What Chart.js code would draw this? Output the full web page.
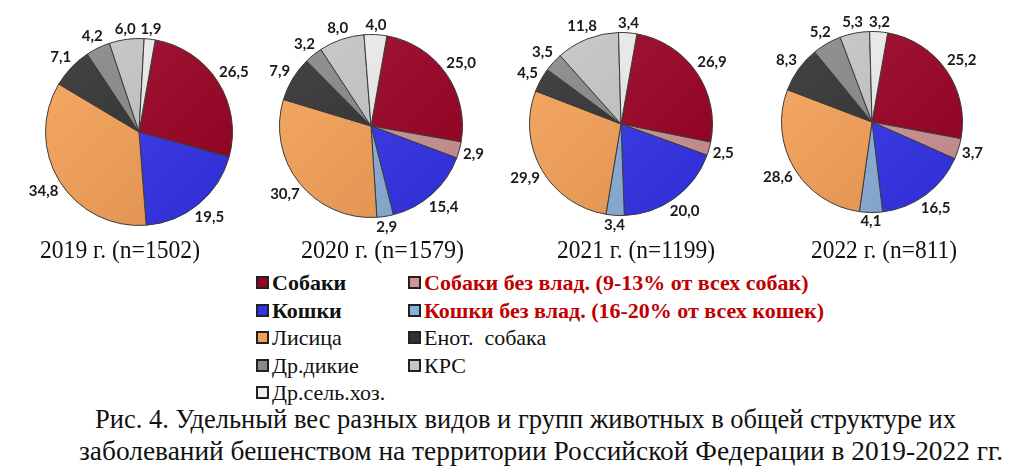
<!DOCTYPE html>
<html>
<head>
<meta charset="UTF-8">
<title>Удельный вес видов животных</title>
<script src="https://cdn.jsdelivr.net/npm/chart.js@4/dist/chart.umd.min.js"></script>
<style>
  html, body { margin: 0; padding: 0; background: #fff; }
  body { width: 1024px; height: 474px; position: relative; overflow: hidden;
         font-family: "Liberation Serif", "Times New Roman", serif; color: #111; }
  .pie { position: absolute; top: 0; }
  .year { position: absolute; font-size: 25px; line-height: 28px; white-space: nowrap; }
  .lg { position: absolute; font-size: 22px; line-height: 24px; white-space: pre; }
  .lg i { display: inline-block; width: 9px; height: 9px; border: 2px solid #222;
          vertical-align: middle; margin-right: 3px; position: relative; top: -2px; }
  .lg.b { font-weight: bold; }
  .lg.r { font-weight: bold; color: #c00000; }
  .cap { position: absolute; font-size: 27px; line-height: 30px; white-space: nowrap; }
  .fit { transform-origin: 0 50%; }
</style>
</head>
<body>

<canvas id="pie0" class="pie"></canvas>
<canvas id="pie1" class="pie"></canvas>
<canvas id="pie2" class="pie"></canvas>
<canvas id="pie3" class="pie"></canvas>

<script>
// categories in slice order (clockwise from the top)
var categories = ['Собаки', 'Собаки без влад. (9-13% от всех собак)', 'Кошки',
                  'Кошки без влад. (16-20% от всех кошек)', 'Лисица', 'Енот.  собака',
                  'Др.дикие', 'КРС', 'Др.сель.хоз.'];
var yearLabels = ['2019 г. (n=1502)', '2020 г. (n=1579)', '2021 г. (n=1199)', '2022 г. (n=811)'];

var values2019 = [26.5, 0,   19.5, 0,   34.8, 7.1, 4.2, 6.0,  1.9];
var values2020 = [25.0, 2.9, 15.4, 2.9, 30.7, 7.9, 3.2, 8.0,  4.0];
var values2021 = [26.9, 2.5, 20.0, 3.4, 29.9, 4.5, 3.5, 11.8, 3.4];
var values2022 = [25.2, 3.7, 16.5, 4.1, 28.6, 8.3, 5.2, 5.3,  3.2];
var allValues = [values2019, values2020, values2021, values2022];

var colors = ['#9a0022', '#d09494', '#3232ea', '#8cb0dc', '#f6a055',
              '#303030', '#888888', '#c6c6c6', '#eeeeee'];

// legend layout: two columns, by category index
var legendCols = [[0, 2, 4, 6, 8], [1, 3, 5, 7]];
var legendStyle = ['b', 'r', 'b', 'r', '', '', '', '', ''];

var caption = ['Рис. 4. Удельный вес разных видов и групп животных в общей структуре их',
               'заболеваний бешенством на территории Российской Федерации в 2019-2022 гг.'];

// placement of each pie (center and radius in page pixels)
var pieX = [139, 371, 621, 872];
var pieY = [132, 126, 124, 122];
var pieR = [94, 92, 92, 91];

function shade(hex, amt) {
    var n = parseInt(hex.slice(1), 16);
    var r = (n >> 16) & 255, g = (n >> 8) & 255, b = n & 255;
    function f(c) {
        c = amt > 0 ? c + (255 - c) * amt : c * (1 + amt);
        return Math.round(Math.max(0, Math.min(255, c)));
    }
    return 'rgb(' + f(r) + ',' + f(g) + ',' + f(b) + ')';
}

// put text at a left edge and squeeze it to a given width
function placeFit(el, left, top, width) {
    el.classList.add('fit');
    el.style.left = left + 'px';
    el.style.top = top + 'px';
    document.body.appendChild(el);
    var w = el.getBoundingClientRect().width;
    el.style.transform = 'scaleX(' + (width / w) + ')';
}

// values drawn just outside the rim
var outsideLabels = {
    id: 'outsideLabels',
    afterDatasetsDraw: function(chart) {
        var ctx = chart.ctx;
        var data = chart.data.datasets[0].data;
        var meta = chart.getDatasetMeta(0);
        ctx.save();
        ctx.font = 'bold 15px Lato, "Liberation Sans", sans-serif';
        ctx.fillStyle = '#1a1a1a';
        ctx.textAlign = 'center';
        ctx.textBaseline = 'middle';
        meta.data.forEach(function(arc, i) {
            if (!data[i]) return;
            var p = arc.getProps(['x', 'y', 'startAngle', 'endAngle', 'outerRadius'], true);
            var a = (p.startAngle + p.endAngle) / 2;
            var ux = Math.cos(a), uy = Math.sin(a);
            var txt = data[i].toFixed(1).replace('.', ',');
            var w = ctx.measureText(txt).width, h = 12;
            var d = p.outerRadius + 3 + Math.abs(ux) * w / 2 + Math.abs(uy) * h / 2;
            ctx.fillText(txt, p.x + ux * d, p.y + uy * d);
        });
        ctx.restore();
    }
};

var CW = 290, CH = 240;

allValues.forEach(function(vals, k) {
    var canvas = document.getElementById('pie' + k);
    canvas.width = CW;
    canvas.height = CH;
    canvas.style.left = (pieX[k] - CW / 2) + 'px';
    var r = pieR[k];
    new Chart(canvas, {
        type: 'pie',
        data: {
            labels: categories,
            datasets: [{
                data: vals,
                backgroundColor: function(c) {
                    var base = colors[c.dataIndex];
                    var area = c.chart.chartArea;
                    if (!area) return base;
                    var g = c.chart.ctx.createLinearGradient(area.left, area.top, area.right, area.bottom);
                    g.addColorStop(0, shade(base, 0.10));
                    g.addColorStop(1, shade(base, -0.10));
                    return g;
                },
                borderColor: '#3a3a3a',
                borderWidth: 1,
                hoverOffset: 0
            }]
        },
        options: {
            responsive: false,
            animation: false,
            rotation: 10,
            layout: {
                padding: {
                    left: CW / 2 - r, right: CW / 2 - r,
                    top: pieY[k] - r, bottom: CH - pieY[k] - r
                }
            },
            plugins: {
                legend: { display: false },
                tooltip: { enabled: false }
            }
        },
        plugins: [outsideLabels]
    });
});

// year captions under the pies
var yearLeft = [40, 301, 557, 811], yearWidth = [160, 163, 158, 146];
yearLabels.forEach(function(t, k) {
    var y = document.createElement('div');
    y.className = 'year';
    y.textContent = t;
    placeFit(y, yearLeft[k], 236, yearWidth[k]);
});

// shared legend below the pies
var legendX = [256, 408];
var legendY0 = 271, legendStep = 27.5;
legendCols.forEach(function(col, ci) {
    col.forEach(function(idx, ri) {
        var el = document.createElement('div');
        el.className = 'lg ' + legendStyle[idx];
        el.style.left = legendX[ci] + 'px';
        el.style.top = (legendY0 + ri * legendStep) + 'px';
        var sw = document.createElement('i');
        sw.style.background = colors[idx];
        el.appendChild(sw);
        el.appendChild(document.createTextNode(categories[idx]));
        document.body.appendChild(el);
    });
});

// caption, squeezed to the width of the original lines
var capLeft = [95, 79], capWidth = [861, 924], capTop = [404, 436];
caption.forEach(function(t, i) {
    var d = document.createElement('div');
    d.className = 'cap';
    d.textContent = t;
    placeFit(d, capLeft[i], capTop[i], capWidth[i]);
});
</script>
</body>
</html>
